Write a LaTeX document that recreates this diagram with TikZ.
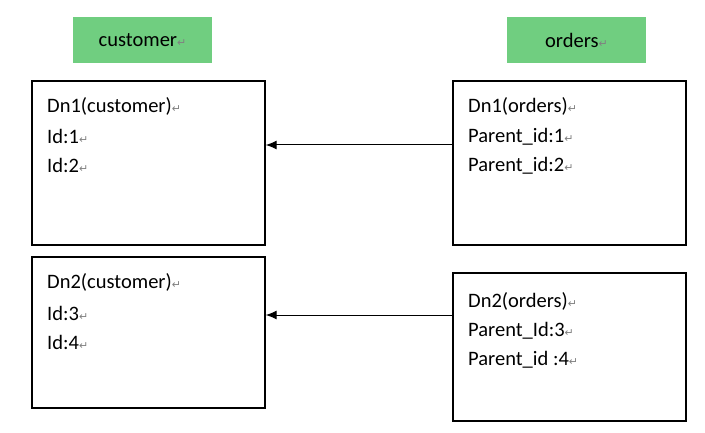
\documentclass[tikz,border=0pt]{standalone}
\usepackage{fontspec}
\setmainfont{Carlito}
\newfontfamily\symfont{DejaVu Sans}
\usetikzlibrary{arrows.meta}
\definecolor{tablegreen}{RGB}{112,206,128}
\newcommand{\ret}{{\symfont\fontsize{11}{11}\selectfont\color{gray}↵}}

\begin{document}
\begin{tikzpicture}[x=1pt,y=-1pt]
  \tikzstyle{every node}+=[inner sep=0pt, font=\fontsize{20.5}{24}\selectfont]
  \tikzstyle{title}=[fill=tablegreen, minimum width=139pt, minimum height=46pt]
  \tikzstyle{shard}=[draw=black, line width=1.4pt, minimum width=233pt]
  \tikzstyle{row}=[anchor=base west]
  \useasboundingbox (0,0) rectangle (705,433);
  % table names
  \node [title] (cust) at (142.5,40) {customer\ret};
  \node [title] (ord) at (576.5,40) {orders\ret};
  % data nodes
  \node [shard, minimum height=164pt] (dn1c) at (148.5,163) {};
  \node [shard, minimum height=164pt] (dn1o) at (569.5,163) {};
  \node [shard, minimum height=151pt] (dn2c) at (148.5,332.5) {};
  \node [shard, minimum height=148pt] (dn2o) at (569.5,347) {};
  % rows
  \node [row] (c1a) at (47,113) {Dn1(customer)\ret};
  \node [row] (c1b) at (47,144) {Id:1\ret};
  \node [row] (c1c) at (47,173) {Id:2\ret};
  \node [row] (o1a) at (468,113) {Dn1(orders)\ret};
  \node [row] (o1b) at (468,143) {Parent\_id:1\ret};
  \node [row] (o1c) at (468,172) {Parent\_id:2\ret};
  \node [row] (c2a) at (47,288) {Dn2(customer)\ret};
  \node [row] (c2b) at (47,320) {Id:3\ret};
  \node [row] (c2c) at (47,349) {Id:4\ret};
  \node [row] (o2a) at (468,307) {Dn2(orders)\ret};
  \node [row] (o2b) at (468,336) {Parent\_Id:3\ret};
  \node [row] (o2c) at (468,365) {Parent\_id :4\ret};
  % references
  \draw [line width=1pt, -{Latex[length=11pt,width=9pt]}] (dn1o.west |- 0,145) -- (dn1c.east |- 0,145);
  \draw [line width=1pt, -{Latex[length=11pt,width=9pt]}] (dn2o.west |- 0,315) -- (dn2c.east |- 0,315);
\end{tikzpicture}
\end{document}
